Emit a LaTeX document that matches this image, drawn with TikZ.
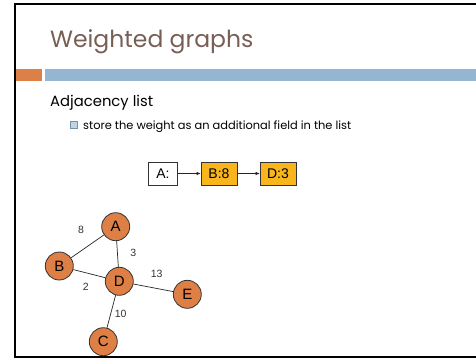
\documentclass[tikz,border=0pt]{standalone}
\usepackage{fontspec}
\setmainfont{Poppins}
\newfontfamily\arialf{Liberation Sans}
\usetikzlibrary{arrows.meta}
\definecolor{titlec}{HTML}{775F55}
\definecolor{accento}{HTML}{DD8047}
\definecolor{accentb}{HTML}{94B6D2}
\definecolor{gold}{HTML}{F9B51C}
\definecolor{nodeo}{HTML}{DE7F45}
\tikzset{
  gnode/.style={circle, draw=black!80, line width=0.8pt, fill=nodeo, minimum size=28pt, inner sep=0pt, font=\arialf\fontsize{15}{15}\selectfont},
  wlab/.style={font=\arialf\fontsize{10.5}{10.5}\selectfont, text=black!80},
  lbox/.style={draw=black!80, line width=0.7pt, minimum height=23pt, inner sep=2pt, font=\arialf\fontsize{14}{14}\selectfont},
  edge/.style={draw=black!85, line width=0.7pt},
  larrow/.style={draw=black!85, line width=0.6pt, -{Latex[length=4pt,width=3.5pt]}}
}
\begin{document}
\begin{tikzpicture}[x=1pt,y=-1pt]
\useasboundingbox (0,0) rectangle (476,359);
% frame
\draw[line width=2pt, line cap=rect] (476,4) -- (15,4) -- (15,357) -- (476,357);
% bars
\fill[accento] (16,69) rectangle (42,81);
\fill[accentb] (45,69) rectangle (476,81);
% title
\node[anchor=base west, inner sep=0, text=titlec, font=\fontsize{23.5}{23.5}\selectfont] (title) at (50,47) {Weighted graphs};
\node[anchor=base west, inner sep=0, font=\fontsize{14.8}{14.8}\selectfont] (sub) at (50,106) {Adjacency list};
\node[draw=accentb!80!black, fill=accentb!60, line width=1pt, minimum size=7pt, inner sep=0] (bul) at (74,125) {};
\node[anchor=base west, inner sep=0, font=\fontsize{11.4}{11.4}\selectfont] (item) at (83,129.5) {store the weight as an additional field in the list};
% list
\node[lbox, fill=white, minimum width=29pt] (LA) at (163,173.5) {A:};
\node[lbox, fill=gold, minimum width=36pt] (LB) at (219,173.5) {B:8};
\node[lbox, fill=gold, minimum width=36pt] (LD) at (278,173.5) {D:3};
\draw[larrow] (LA) -- (LB);
\draw[larrow] (LB) -- (LD);
% graph
\node[gnode] (A) at (115.7,226.7) {A};
\node[gnode] (B) at (59.3,266) {B};
\node[gnode] (D) at (119.3,281.3) {D};
\node[gnode] (E) at (187.3,294.3) {E};
\node[gnode] (C) at (103.3,341.7) {C};
\draw[edge] (A) -- (B);
\draw[edge] (A) -- (D);
\draw[edge] (B) -- (D);
\draw[edge] (D) -- (E);
\draw[edge] (D) -- (C);
\node[wlab] (w8) at (81,230) {8};
\node[wlab] (w3) at (133.3,252.7) {3};
\node[wlab] (w13) at (156.7,274) {13};
\node[wlab] (w2) at (85.7,287.3) {2};
\node[wlab] (w10) at (120.7,314.3) {10};
\end{tikzpicture}
\end{document}
